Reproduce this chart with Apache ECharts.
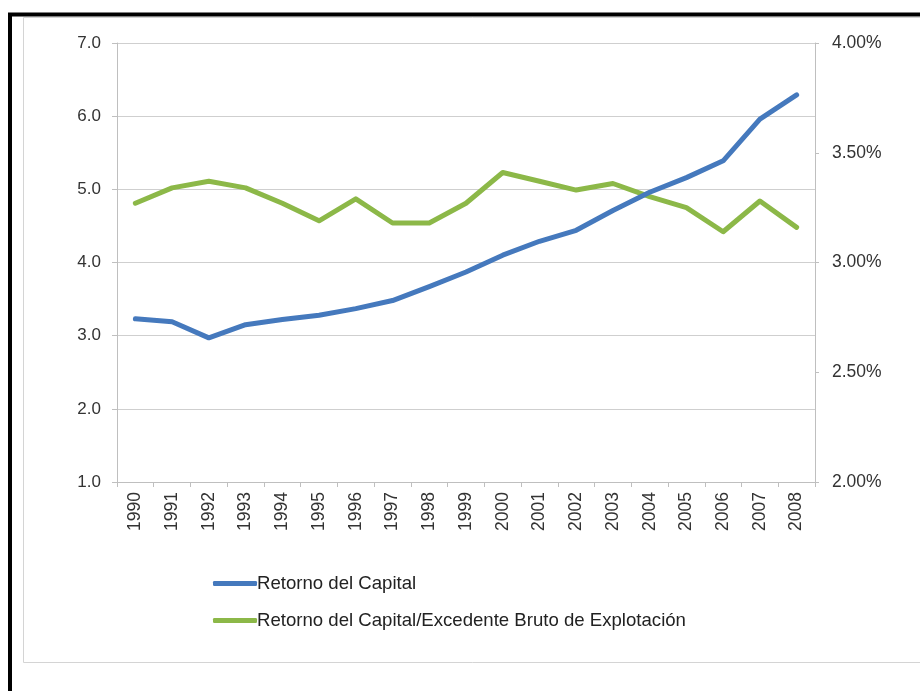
<!DOCTYPE html>
<html>
<head>
<meta charset="utf-8">
<script src="https://cdn.jsdelivr.net/npm/echarts@6/dist/echarts.min.js"></script>
<style>
  html, body { margin: 0; padding: 0; background: #fff; }
  #chart { width: 920px; height: 691px; }
</style>
</head>
<body>
<div id="chart"></div>
<script>
// datos
const years = ['1990', '1991', '1992', '1993', '1994', '1995', '1996', '1997', '1998', '1999',
  '2000', '2001', '2002', '2003', '2004', '2005', '2006', '2007', '2008']
const retornoCapital = [3.23, 3.19, 2.97, 3.15, 3.22, 3.28, 3.37, 3.48, 3.67, 3.87,
  4.10, 4.29, 4.44, 4.71, 4.96, 5.16, 5.39, 5.96, 6.29]
const retornoEbe = [3.27, 3.34, 3.37, 3.34, 3.27, 3.19, 3.29, 3.18, 3.18, 3.27,
  3.41, 3.37, 3.33, 3.36, 3.30, 3.25, 3.14, 3.28, 3.16]
const seriesNames = ['Retorno del Capital', 'Retorno del Capital/Excedente Bruto de Explotación']

const chart = echarts.init(document.getElementById('chart'))

const labelColor = '#333'
const axisGray = '#bfbfbf'
const fontFamily = 'Liberation Sans, Arial, sans-serif'

const option = {
  animation: false,
  backgroundColor: '#fff',
  textStyle: { fontFamily },
  graphic: [
    // marco gris interior
    {
      type: 'rect',
      shape: { x: 23.5, y: 17.5, width: 920, height: 645 },
      style: { fill: 'none', stroke: '#d4d4d4', lineWidth: 1 },
      silent: true,
    },
    // marco negro exterior (arriba e izquierda)
    {
      type: 'polyline',
      shape: { points: [[10, 700], [10, 14.5], [930, 14.5]] },
      style: { fill: 'none', stroke: '#000', lineWidth: 4 },
      silent: true,
    },
  ],
  grid: {
    left: 117,
    right: 105,
    top: 43,
    bottom: 209,
  },
  legend: {
    orient: 'vertical',
    left: 208,
    top: 569,
    itemGap: 18,
    itemWidth: 44,
    itemHeight: 5,
    icon: 'roundRect',
    textStyle: { fontSize: 18.6, color: '#222', padding: [0, 0, 0, -5] },
    data: seriesNames,
  },
  xAxis: {
    type: 'category',
    data: years,
    boundaryGap: true,
    axisLine: { lineStyle: { color: axisGray, width: 1 } },
    axisTick: { show: true, alignWithLabel: false, length: 5, lineStyle: { color: axisGray } },
    axisLabel: { rotate: 90, fontSize: 17.5, color: labelColor, margin: 10 },
  },
  yAxis: [
    {
      type: 'value',
      min: 1,
      max: 7,
      interval: 1,
      axisLine: { show: true, lineStyle: { color: axisGray } },
      axisTick: { show: true, length: 5, lineStyle: { color: axisGray } },
      splitLine: { lineStyle: { color: '#cfcfcf', width: 1 } },
      axisLabel: {
        fontSize: 17,
        color: labelColor,
        margin: 16,
        formatter: (v) => v.toFixed(1),
      },
    },
    {
      type: 'value',
      min: 2,
      max: 4,
      interval: 0.5,
      position: 'right',
      axisLine: { show: true, lineStyle: { color: axisGray } },
      axisTick: { show: true, length: 4, lineStyle: { color: axisGray } },
      splitLine: { show: false },
      axisLabel: {
        fontSize: 17.5,
        color: labelColor,
        margin: 17,
        formatter: (v) => v.toFixed(2) + '%',
      },
    },
  ],
  series: [
    {
      name: seriesNames[0],
      type: 'line',
      yAxisIndex: 0,
      data: retornoCapital,
      showSymbol: false,
      symbol: 'none',
      itemStyle: { color: '#4579bd' },
      lineStyle: { width: 5, color: '#4579bd', cap: 'round', join: 'round' },
      z: 3,
    },
    {
      name: seriesNames[1],
      type: 'line',
      yAxisIndex: 1,
      data: retornoEbe,
      showSymbol: false,
      symbol: 'none',
      itemStyle: { color: '#8cb848' },
      lineStyle: { width: 5, color: '#8cb848', cap: 'round', join: 'round' },
      z: 2,
    },
  ],
}

chart.setOption(option)
</script>
</body>
</html>
